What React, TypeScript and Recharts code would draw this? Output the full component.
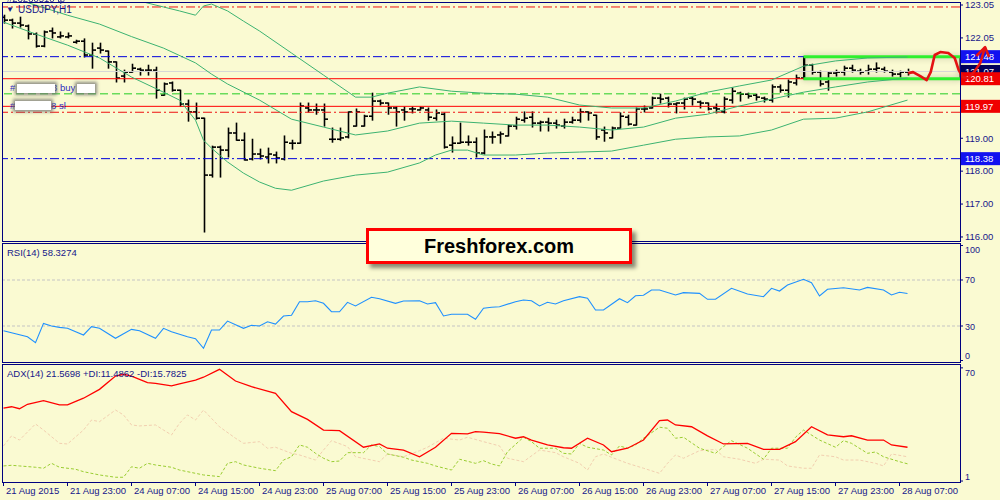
import React from 'react';
import { ComposedChart, Bar, Line, XAxis, YAxis, ReferenceLine, ReferenceArea } from 'recharts';

// USDJPY H1, one entry per hourly bar (index 0 = 21 Aug 2015)
const OPEN = [
  122.68, 122.59, 122.5, 122.41, 122.17, 121.8, 122.26, 122.08, 122.08, 121.92,
  121.95, 121.53, 121.74, 121.65, 121.32, 120.89, 121.01, 121.1, 121.07, 121.07,
  120.31, 120.68, 120.46, 120.04, 119.8, 119.61, 117.88, 118.73, 118.64, 119.16,
  118.94, 118.37, 118.52, 118.43, 118.49, 118.37, 118.85, 118.85, 119.92, 119.86,
  119.86, 118.97, 118.97, 119.04, 119.37, 119.37, 119.67, 120.13, 120.07, 119.92,
  119.86, 119.89, 119.86, 119.86, 119.61, 119.73, 118.79, 118.85, 118.88, 118.88,
  118.55, 119.04, 119.1, 119.07, 119.37, 119.55, 119.64, 119.46, 119.49, 119.46,
  119.37, 119.49, 119.55, 119.8, 119.7, 119.25, 119.01, 119.31, 119.64, 119.4,
  119.89, 119.92, 120.22, 120.22, 120.04, 120.07, 120.22, 120.1, 120.07, 119.92,
  119.8, 120.16, 120.37, 120.34, 120.31, 120.22, 120.16, 120.56, 120.46, 120.68,
  120.83, 121.22, 121.01, 120.71, 120.98, 121.01, 121.13, 121.04, 121.04, 121.1,
  121.1, 121.01, 120.95, 121.01,
];
const HIGH = [
  122.74, 122.62, 122.68, 122.44, 122.2, 122.26, 122.35, 122.23, 122.2, 121.98,
  122.02, 121.89, 121.89, 121.65, 121.32, 121.07, 121.25, 121.13, 121.22, 121.16,
  120.68, 120.71, 120.46, 120.16, 120.07, 119.61, 118.76, 118.76, 119.31, 119.46,
  119.16, 118.97, 118.67, 118.7, 118.58, 119.07, 118.94, 120.07, 120.07, 120.04,
  120.04, 119.31, 119.31, 119.8, 119.89, 119.7, 120.37, 120.16, 120.07, 119.95,
  119.95, 119.95, 119.95, 119.92, 119.86, 119.77, 119.04, 119.46, 119.07, 119.01,
  119.25, 119.19, 119.19, 119.4, 119.64, 119.8, 119.8, 119.52, 119.61, 119.55,
  119.58, 119.64, 119.89, 119.8, 119.7, 119.34, 119.34, 119.77, 119.7, 119.92,
  119.98, 120.25, 120.34, 120.25, 120.07, 120.22, 120.25, 120.13, 120.07, 120.04,
  120.25, 120.53, 120.4, 120.37, 120.34, 120.25, 120.62, 120.62, 120.77, 120.92,
  121.44, 121.25, 121.04, 121.01, 121.07, 121.19, 121.22, 121.1, 121.22, 121.29,
  121.16, 121.07, 121.04, 121.1,
];
const LOW = [
  122.5, 122.35, 122.38, 122.02, 121.77, 121.78, 122.05, 122.05, 122.05, 121.89,
  121.47, 121.13, 121.59, 121.13, 120.71, 120.71, 121.01, 120.92, 120.92, 120.22,
  120.31, 120.43, 119.98, 119.52, 119.58, 116.15, 117.82, 117.82, 118.43, 118.94,
  118.34, 118.34, 118.37, 118.25, 118.25, 118.34, 118.67, 118.85, 119.8, 119.73,
  119.37, 118.88, 118.94, 119.01, 119.37, 119.37, 119.55, 120.01, 119.73, 119.37,
  119.55, 119.77, 119.86, 119.55, 119.55, 118.7, 118.58, 118.85, 118.79, 118.43,
  118.52, 118.85, 118.85, 119.07, 119.28, 119.49, 119.34, 119.22, 119.22, 119.31,
  119.31, 119.46, 119.49, 119.55, 118.97, 118.91, 119.01, 119.31, 119.4, 119.4,
  119.8, 119.92, 120.07, 119.95, 119.77, 119.89, 120.01, 119.92, 119.86, 119.77,
  119.77, 120.07, 120.13, 120.22, 120.16, 120.1, 120.1, 120.4, 120.25, 120.62,
  120.8, 120.95, 120.59, 120.46, 120.89, 120.92, 121.01, 120.95, 120.95, 121.01,
  121.01, 120.89, 120.86, 120.92,
];
const CLOSE = [
  122.59, 122.5, 122.44, 122.17, 121.8, 122.23, 122.2, 122.11, 122.11, 121.95,
  121.53, 121.68, 121.68, 121.32, 120.83, 121.01, 121.13, 121.07, 121.07, 120.46,
  120.65, 120.46, 120.04, 119.8, 119.61, 117.88, 118.73, 118.64, 119.16, 118.94,
  118.34, 118.52, 118.46, 118.52, 118.4, 118.88, 118.85, 119.98, 119.86, 119.86,
  119.58, 118.97, 119.01, 119.8, 119.8, 119.67, 120.13, 120.07, 119.92, 119.8,
  119.8, 119.89, 119.92, 119.64, 119.77, 118.73, 118.85, 118.88, 118.88, 118.55,
  119.04, 119.04, 119.13, 119.37, 119.58, 119.61, 119.46, 119.49, 119.46, 119.4,
  119.49, 119.55, 119.8, 119.77, 119.04, 119.16, 119.31, 119.67, 119.43, 119.89,
  119.89, 120.22, 120.19, 120.04, 120.07, 120.19, 120.19, 120.07, 119.89, 119.89,
  120.19, 120.43, 120.34, 120.28, 120.25, 120.19, 120.56, 120.46, 120.71, 120.83,
  121.22, 121.01, 120.65, 120.98, 121.01, 121.13, 121.07, 121.01, 121.1, 121.13,
  121.04, 120.95, 121.01, 121.01,
];

// Bollinger bands, read as [bar index, price]
const UPPER_BAND = [
  [0, 124.2], [4, 123.96], [8, 123.72], [12, 123.47], [16, 123.23], [20, 122.99], [22, 122.87],
  [24, 122.74], [25, 123.02], [26, 123.08], [28, 122.87], [30, 122.56], [32, 122.26], [36, 121.59],
  [40, 120.92], [44, 120.25], [46, 120.25], [48, 120.37], [52, 120.56], [56, 120.43], [60, 120.37],
  [64, 120.34], [68, 120.25], [72, 120.01], [76, 119.92], [80, 119.92], [84, 120.13], [88, 120.4],
  [92, 120.59], [96, 120.77], [100, 121.19], [104, 121.35], [108, 121.44], [113, 121.47],
];
const MIDDLE_BAND = [
  [0, 123.35], [4, 123.05], [8, 122.74], [12, 122.47], [16, 122.09], [20, 121.74], [24, 121.29],
  [26, 120.95], [28, 120.65], [32, 120.16], [36, 119.58], [40, 119.34], [44, 119.1], [48, 119.22],
  [52, 119.46], [56, 119.52], [60, 119.46], [64, 119.4], [68, 119.4], [72, 119.34], [76, 119.25],
  [80, 119.34], [84, 119.61], [88, 119.73], [92, 119.98], [96, 120.19], [100, 120.4], [104, 120.56],
  [108, 120.71], [113, 120.83],
];
const LOWER_BAND = [
  [0, 122.53], [4, 122.17], [8, 121.83], [12, 121.44], [16, 120.86], [20, 120.4], [22, 120.16],
  [24, 119.55], [25, 118.94], [26, 118.7], [28, 118.28], [30, 117.94], [32, 117.67], [34, 117.48],
  [36, 117.42], [40, 117.7], [44, 117.88], [48, 117.97], [52, 118.25], [54, 118.49], [56, 118.64],
  [58, 118.64], [60, 118.49], [64, 118.49], [68, 118.55], [72, 118.58], [76, 118.61], [80, 118.79],
  [84, 118.97], [88, 119.04], [92, 119.07], [96, 119.25], [100, 119.58], [104, 119.61], [108, 119.8],
  [113, 120.16],
];

const RSI = [
  [0, 25.9], [1, 24.2], [3, 20.7], [4, 15.5], [5, 32.3], [6, 30], [7, 28.8], [8, 28], [10, 22.2],
  [11, 29.4], [12, 28], [14, 19.3], [16, 27.1], [17, 25.9], [19, 19.3], [20, 28], [21, 25], [23, 20.7],
  [24, 19], [25, 10.6], [26, 26.5], [27, 26.5], [28, 34.3], [30, 28], [31, 30.6], [32, 30], [33, 33.7],
  [34, 31.7], [35, 38.7], [36, 39.3], [37, 51.1], [38, 51.1], [39, 52], [40, 49.7], [41, 42.4],
  [42, 42.4], [43, 50.6], [44, 47.4], [46, 55], [47, 53.7], [49, 49.7], [50, 51.7], [52, 52],
  [53, 49.1], [54, 50.3], [55, 38.7], [56, 40.2], [58, 40.2], [59, 35.8], [60, 45.4], [61, 46.3],
  [62, 46.8], [64, 51.1], [65, 52.6], [66, 52], [67, 47.4], [68, 50.6], [69, 49.1], [70, 52],
  [72, 55.5], [73, 54.1], [74, 43.9], [75, 43.9], [77, 53.7], [78, 50.3], [79, 56.3], [80, 56.7],
  [81, 61.3], [82, 61.3], [84, 57], [85, 59], [87, 58.4], [88, 53.2], [89, 53.2], [91, 62.8],
  [93, 57.8], [95, 55.5], [96, 62.8], [97, 60.4], [98, 65.7], [100, 70.6], [101, 67.7], [102, 56.1],
  [103, 61.9], [105, 63.3], [107, 61.3], [108, 63.6], [110, 61.3], [111, 57], [112, 59.3], [113, 58.3],
];

const ADX = [
  [0, 45.4], [1, 46.3], [2, 45.1], [3, 47.8], [5, 50], [7, 47.4], [8, 47.4], [10, 51.5], [12, 56.9],
  [14, 65], [15, 66.1], [16, 65], [18, 61], [19, 60.6], [21, 59], [22, 60.2], [24, 62.6], [25, 64.3],
  [27, 69.1], [29, 62], [31, 58.5], [34, 54.5], [36, 43.3], [38, 38.6], [40, 32.1], [42, 31.7],
  [45, 21.6], [47, 23.6], [48, 21], [50, 19.9], [52, 15.8], [54, 21.6], [56, 30.1], [58, 29.7],
  [59, 31.1], [60, 30.8], [62, 29.9], [64, 27.1], [65, 28], [66, 26], [68, 23], [70, 21.3], [71, 21],
  [73, 27.1], [75, 23], [76, 18.9], [78, 21], [80, 26], [82, 37.8], [83, 38.2], [84, 35.2], [86, 34.1],
  [88, 28.5], [90, 23.6], [93, 24], [95, 20.3], [97, 20.3], [99, 25], [101, 34.1], [103, 29.1],
  [105, 28], [106, 28.6], [108, 26], [110, 26], [111, 23], [113, 21.6],
];
const PLUS_DI = [
  [0, 10.2], [1, 10.6], [2, 10.2], [4, 9.4], [5, 8.8], [6, 11.8], [7, 9.4], [9, 8.2], [10, 6.7],
  [12, 4.7], [14, 3.3], [15, 3.3], [16, 9.7], [17, 8.8], [18, 11.8], [19, 10.8], [21, 9.4], [22, 7.7],
  [24, 5.7], [25, 4.7], [27, 3.7], [28, 11.8], [29, 12.8], [30, 10.8], [32, 8.8], [34, 7.3],
  [35, 13.8], [36, 15.8], [37, 23], [38, 21.6], [39, 17.9], [40, 14.9], [41, 12.8], [42, 13.2],
  [43, 18.3], [45, 18.3], [46, 23], [47, 22], [48, 17.5], [50, 15.5], [51, 13.8], [53, 11.8],
  [54, 10.2], [56, 7.7], [57, 14.3], [59, 11.8], [60, 13.4], [61, 11.4], [62, 10.2], [63, 18.9],
  [65, 27.7], [66, 25], [67, 21], [69, 21], [70, 17.9], [71, 17.5], [72, 24], [73, 21.6], [75, 19.9],
  [76, 16.9], [77, 22.4], [78, 21], [79, 23], [80, 27.1], [82, 33.8], [83, 33.2], [84, 27.1],
  [85, 27.7], [87, 21], [89, 17.9], [90, 22], [91, 25.6], [93, 21], [95, 14.3], [96, 21], [98, 21],
  [99, 27.7], [100, 32.1], [102, 26], [104, 21.6], [105, 25.6], [106, 24], [108, 17.9], [109, 18.7],
  [110, 15.8], [112, 12.8], [113, 11.5],
];
const MINUS_DI = [
  [0, 22.4], [1, 28.5], [2, 26], [4, 35.8], [5, 32.1], [7, 24], [8, 23.6], [10, 32.1], [11, 38.2],
  [12, 37.2], [14, 44.3], [15, 41.3], [16, 35.2], [17, 34.6], [19, 35.2], [20, 32.1], [21, 29.1],
  [22, 36.2], [23, 41.3], [24, 38.2], [25, 44.3], [27, 34.1], [29, 27.1], [30, 24], [32, 25],
  [33, 21], [34, 21.6], [36, 17.9], [37, 16.9], [39, 13.8], [40, 19.9], [41, 25.6], [43, 22],
  [44, 15.8], [46, 13.8], [47, 12.8], [48, 17.5], [50, 15.8], [52, 19.5], [53, 21.6], [55, 27.1],
  [57, 26], [58, 27.7], [60, 25], [62, 22.4], [63, 14.9], [65, 12.8], [67, 19.9], [69, 18.3],
  [70, 15.8], [72, 11.8], [73, 7.7], [74, 15.8], [75, 17.5], [76, 15.5], [78, 11.8], [80, 8.8],
  [82, 5.7], [83, 11.8], [84, 16.9], [85, 14.9], [87, 19.5], [89, 20.3], [90, 15.8], [92, 14.3],
  [94, 11.8], [95, 14.3], [97, 13.8], [98, 10.2], [100, 8.8], [101, 8.8], [102, 16.9], [104, 15.8],
  [105, 13.8], [107, 13.8], [109, 11.8], [110, 10.2], [111, 17.5], [113, 15.8],
];

const TIME_TICKS = [0, 8, 16, 24, 32, 40, 48, 56, 64, 72, 80, 88, 96, 104, 112];
const TIME_LABELS = [
  '21 Aug 2015', '21 Aug 23:00', '24 Aug 07:00', '24 Aug 15:00', '24 Aug 23:00',
  '25 Aug 07:00', '25 Aug 15:00', '25 Aug 23:00', '26 Aug 07:00', '26 Aug 15:00',
  '26 Aug 23:00', '27 Aug 07:00', '27 Aug 15:00', '27 Aug 23:00', '28 Aug 07:00',
];
const PRICE_TICKS = [116, 117, 118, 119, 122.05, 123.05];
const TAG_PRICES = [121.03, 121.48, 120.81, 119.97, 118.38];
const TAG_TEXT = ['121.07', '121.48', '120.81', '119.97', '118.38'];
const LEVELS = [122.99, 121.48, 121.03, 120.81, 120.35, 119.97, 119.79, 118.38];
const RSI_TICKS = [0, 30, 70, 100];
const RSI_LEVELS = [30, 70];
const ADX_TICKS = [1, 70];

// trade zone box and hand-drawn forecast arrow
const BOX_FROM = 100;
const BOX_TOP = 121.48;
const BOX_BOTTOM = 120.81;
const FORECAST_I = [113.1, 113.7, 114.6, 115.4, 115.9, 116.4, 117.1, 118.1, 118.9, 119.4, 119.9, 120.6, 121.4, 122.1, 122.7];
const FORECAST_P = [120.98, 121.01, 120.89, 120.77, 121.01, 121.53, 121.62, 121.59, 121.44, 121.07, 120.86, 120.83, 121.04, 121.29, 121.77];
const ARROWHEAD_I = [121.6, 122.7, 123.2];
const ARROWHEAD_P = [121.5, 121.77, 121.47];

const BG = '#FAFAD2';
const NAVY = '#000080';
const TXT = '#16168a';
const FONT = '"Liberation Sans", Arial, sans-serif';
const X_DOMAIN: [number, number] = [-0.0625, 119.5625];
const MAIN_Y: [number, number] = [115.877, 123.111];
const RSI_Y: [number, number] = [-1.3, 102.17];
const ADX_Y: [number, number] = [0.41, 72.36];

const LEVEL_STYLE = [
  { stroke: '#ee1111', dash: '9 3 2 3' },
  { stroke: '#0000dd', dash: '9 3 2 3' },
  { stroke: '#d6d6d6', dash: undefined },
  { stroke: '#ff0000', dash: undefined },
  { stroke: '#22cc22', dash: '8 4' },
  { stroke: '#ff0000', dash: undefined },
  { stroke: '#ee1111', dash: '9 3 2 3' },
  { stroke: '#0000dd', dash: '9 3 2 3' },
];
const TAG_FILL = ['#00005a', '#1212f0', '#f00000', '#f00000', '#1212f0'];

const BARS = OPEN.map((o, i) => ({ i, o, h: HIGH[i], l: LOW[i], c: CLOSE[i] }));
const pts = (a: number[][]) => a.map(([i, v]) => ({ i, v }));
const FORECAST = FORECAST_I.map((i, k) => ({ i, v: FORECAST_P[k] }));
const ARROWHEAD = ARROWHEAD_I.map((i, k) => ({ i, v: ARROWHEAD_P[k] }));

function OhlcShape(props: any) {
  const { x, y, width, height, payload } = props;
  if (!payload || x == null || y == null) return null;
  const cx = Math.round(x + width / 2) + 0.5;
  const top = Math.min(y, y + height);
  const h = Math.abs(height);
  const range = payload.h - payload.l || 1;
  const yo = top + ((payload.h - payload.o) / range) * h;
  const yc = top + ((payload.h - payload.c) / range) * h;
  return (
    <g stroke="#000" strokeWidth={1.6}>
      <line x1={cx} x2={cx} y1={top - 0.5} y2={top + h + 0.5} />
      <line x1={cx - 3.5} x2={cx} y1={yo} y2={yo} />
      <line x1={cx} x2={cx + 3.5} y1={yc} y2={yc} />
    </g>
  );
}

function PriceTick({ x, y, payload }: any) {
  const k = TAG_PRICES.indexOf(payload.value);
  if (k < 0) {
    return (
      <text x={x} y={y} dy="0.35em" fill={TXT} fontSize={9.5} fontFamily={FONT}>
        {payload.value.toFixed(2)}
      </text>
    );
  }
  return (
    <g>
      <rect x={x - 4} y={y - 6.5} width={40} height={13} fill={TAG_FILL[k]} />
      <text x={x} y={y} dy="0.35em" fill="#ffffff" fontSize={9.5} fontFamily={FONT}>
        {TAG_TEXT[k]}
      </text>
    </g>
  );
}

function EdgeTick({ x, y, payload, top, bottom }: any) {
  const v = payload.value;
  const dy = v === top ? 8 : v === bottom ? -1.5 : 3.5;
  return (
    <text x={x} y={y} dy={dy} fill={TXT} fontSize={9} fontFamily={FONT}>
      {v}
    </text>
  );
}

function TimeTick({ x, y, payload }: any) {
  const k = TIME_TICKS.indexOf(payload.value);
  return (
    <text x={x + 2.5} y={y} dy={8} fill={TXT} fontSize={9.5} fontFamily={FONT}>
      {TIME_LABELS[k]}
    </text>
  );
}

const panel = (top: number, height: number): React.CSSProperties => ({
  position: 'absolute',
  left: 2,
  top,
  width: 959,
  height,
  border: `1px solid ${NAVY}`,
  boxSizing: 'border-box',
  pointerEvents: 'none',
});

const smallText: React.CSSProperties = {
  position: 'absolute',
  fontFamily: FONT,
  fontSize: 9.5,
  color: TXT,
  whiteSpace: 'nowrap',
  lineHeight: '12px',
};

const blurBox = (left: number, top: number, width: number): React.CSSProperties => ({
  position: 'absolute',
  left,
  top,
  width,
  height: 9,
  background: '#ffffff',
  boxShadow: '0 0 3px 2px rgba(110,110,110,0.75)',
});

export default function App() {
  return (
    <div style={{ position: 'absolute', left: 0, top: 0, width: 1000, height: 500, background: BG, overflow: 'hidden' }}>
      {/* price panel */}
      <div style={{ position: 'absolute', left: 0, top: 0 }}>
        <ComposedChart width={1000} height={245} data={BARS} margin={{ top: 3, right: 0, bottom: 4, left: 3 }}>
          <XAxis type="number" dataKey="i" domain={X_DOMAIN} allowDataOverflow hide />
          <YAxis
            orientation="right"
            width={40}
            type="number"
            domain={MAIN_Y}
            allowDataOverflow
            ticks={[...TAG_PRICES, ...PRICE_TICKS]}
            interval={0}
            axisLine={false}
            tickSize={3}
            tickMargin={2}
            tickLine={{ stroke: NAVY }}
            tick={<PriceTick />}
          />
          {LEVELS.map((p, k) => (
            <ReferenceLine
              key={k}
              y={p}
              stroke={LEVEL_STYLE[k].stroke}
              strokeDasharray={LEVEL_STYLE[k].dash}
              strokeWidth={1}
            />
          ))}
          <ReferenceArea
            x1={BOX_FROM}
            x2={X_DOMAIN[1]}
            y1={BOX_BOTTOM}
            y2={BOX_TOP}
            shape={(p: any) => (
              <rect
                x={p.x}
                y={p.y}
                width={p.width}
                height={p.height}
                fill="rgba(0,0,0,0)"
                stroke="#000"
                strokeWidth={1}
                style={{ filter: 'drop-shadow(0 0 3px rgba(0,0,0,0.7))' }}
              />
            )}
          />
          <ReferenceLine
            segment={[{ x: BOX_FROM, y: BOX_TOP }, { x: X_DOMAIN[1], y: BOX_TOP }]}
            stroke="#2ef02e"
            strokeWidth={3}
          />
          <ReferenceLine
            segment={[{ x: BOX_FROM, y: BOX_BOTTOM }, { x: X_DOMAIN[1], y: BOX_BOTTOM }]}
            stroke="#2ef02e"
            strokeWidth={3}
          />
          <Line data={pts(UPPER_BAND)} dataKey="v" stroke="#3cb371" strokeWidth={1} dot={false} isAnimationActive={false} />
          <Line data={pts(MIDDLE_BAND)} dataKey="v" stroke="#3cb371" strokeWidth={1} dot={false} isAnimationActive={false} />
          <Line data={pts(LOWER_BAND)} dataKey="v" stroke="#3cb371" strokeWidth={1} dot={false} isAnimationActive={false} />
          <Bar dataKey={(d: any) => [d.l, d.h]} barSize={6} shape={<OhlcShape />} isAnimationActive={false} />
        </ComposedChart>
      </div>

      {/* hand-drawn forecast */}
      <div style={{ position: 'absolute', left: 0, top: 0 }}>
        <ComposedChart width={1000} height={245} margin={{ top: 3, right: 0, bottom: 4, left: 3 }}>
          <XAxis type="number" dataKey="i" domain={[-0.0625, 124.5625]} allowDataOverflow hide />
          <YAxis type="number" domain={MAIN_Y} allowDataOverflow hide />
          <Line data={FORECAST} dataKey="v" stroke="#e41212" strokeWidth={2.6} strokeLinejoin="round" dot={false} isAnimationActive={false} />
          <Line data={ARROWHEAD} dataKey="v" stroke="#e41212" strokeWidth={2.6} strokeLinejoin="round" dot={false} isAnimationActive={false} />
        </ComposedChart>
      </div>

      {/* RSI panel */}
      <div style={{ position: 'absolute', left: 0, top: 243 }}>
        <ComposedChart width={1000} height={119} margin={{ top: 0, right: 0, bottom: 0, left: 3 }}>
          <XAxis type="number" dataKey="i" domain={X_DOMAIN} allowDataOverflow hide />
          <YAxis
            orientation="right"
            width={40}
            type="number"
            domain={RSI_Y}
            allowDataOverflow
            ticks={RSI_TICKS}
            interval={0}
            axisLine={false}
            tickSize={3}
            tickMargin={2}
            tickLine={{ stroke: NAVY }}
            tick={<EdgeTick top={100} bottom={0} />}
          />
          {RSI_LEVELS.map((v) => (
            <ReferenceLine key={v} y={v} stroke="#c4c4c4" strokeDasharray="3 2" />
          ))}
          <Line data={pts(RSI)} dataKey="v" stroke="#1e90ff" strokeWidth={1.1} dot={false} isAnimationActive={false} />
        </ComposedChart>
      </div>

      {/* ADX panel */}
      <div style={{ position: 'absolute', left: 0, top: 364 }}>
        <ComposedChart width={1000} height={136} margin={{ top: 0, right: 0, bottom: 0, left: 3 }}>
          <XAxis
            type="number"
            dataKey="i"
            domain={X_DOMAIN}
            allowDataOverflow
            ticks={TIME_TICKS}
            interval={0}
            height={18}
            axisLine={false}
            tickSize={4}
            tickMargin={0}
            tickLine={{ stroke: NAVY }}
            tick={<TimeTick />}
          />
          <YAxis
            orientation="right"
            width={40}
            type="number"
            domain={ADX_Y}
            allowDataOverflow
            ticks={ADX_TICKS}
            interval={0}
            axisLine={false}
            tickSize={3}
            tickMargin={2}
            tickLine={{ stroke: NAVY }}
            tick={<EdgeTick top={70} bottom={1} />}
          />
          <Line data={pts(MINUS_DI)} dataKey="v" stroke="#f2cfb0" strokeWidth={1} strokeDasharray="3 2" dot={false} isAnimationActive={false} />
          <Line data={pts(PLUS_DI)} dataKey="v" stroke="#9acd32" strokeWidth={1} strokeDasharray="3 2" dot={false} isAnimationActive={false} />
          <Line data={pts(ADX)} dataKey="v" stroke="#ff0000" strokeWidth={1.3} dot={false} isAnimationActive={false} />
        </ComposedChart>
      </div>

      {/* panel frames */}
      <div style={panel(2, 240)} />
      <div style={panel(243, 120)} />
      <div style={panel(364, 119)} />

      {/* labels */}
      <div style={{ ...smallText, left: 7, top: -7, filter: 'blur(0.4px)' }}>#26280510 tp</div>
      <div style={{ ...smallText, left: 6, top: 4, fontSize: 8 }}>▼</div>
      <div style={{ ...smallText, left: 18, top: 4, fontSize: 10 }}>USDJPY,H1</div>

      <div style={{ ...smallText, left: 10, top: 82, color: '#2a2ac0' }}>#</div>
      <div style={{ ...smallText, left: 52, top: 82, color: '#2a2ac0' }}>3 buy</div>
      <div style={blurBox(17, 84, 38)} />
      <div style={blurBox(77, 84, 18)} />
      <div style={{ ...smallText, left: 10, top: 100, color: '#2a2ac0' }}>#</div>
      <div style={{ ...smallText, left: 51, top: 100, color: '#2a2ac0' }}>8 sl</div>
      <div style={blurBox(15, 101, 36)} />

      <div style={{ ...smallText, left: 7, top: 247 }}>RSI(14) 58.3274</div>
      <div style={{ ...smallText, left: 7, top: 368 }}>ADX(14) 21.5698 +DI:11.4862 -DI:15.7825</div>

      <div
        style={{
          position: 'absolute',
          left: 366,
          top: 228,
          width: 266,
          height: 36,
          boxSizing: 'border-box',
          border: '3px solid #ff0000',
          background: '#ffffdc',
          boxShadow: '4px 4px 4px rgba(0,0,0,0.45)',
          fontFamily: FONT,
          fontWeight: 'bold',
          fontSize: 20,
          lineHeight: '30px',
          textAlign: 'center',
          color: '#000',
        }}
      >
        Freshforex.com
      </div>
    </div>
  );
}
